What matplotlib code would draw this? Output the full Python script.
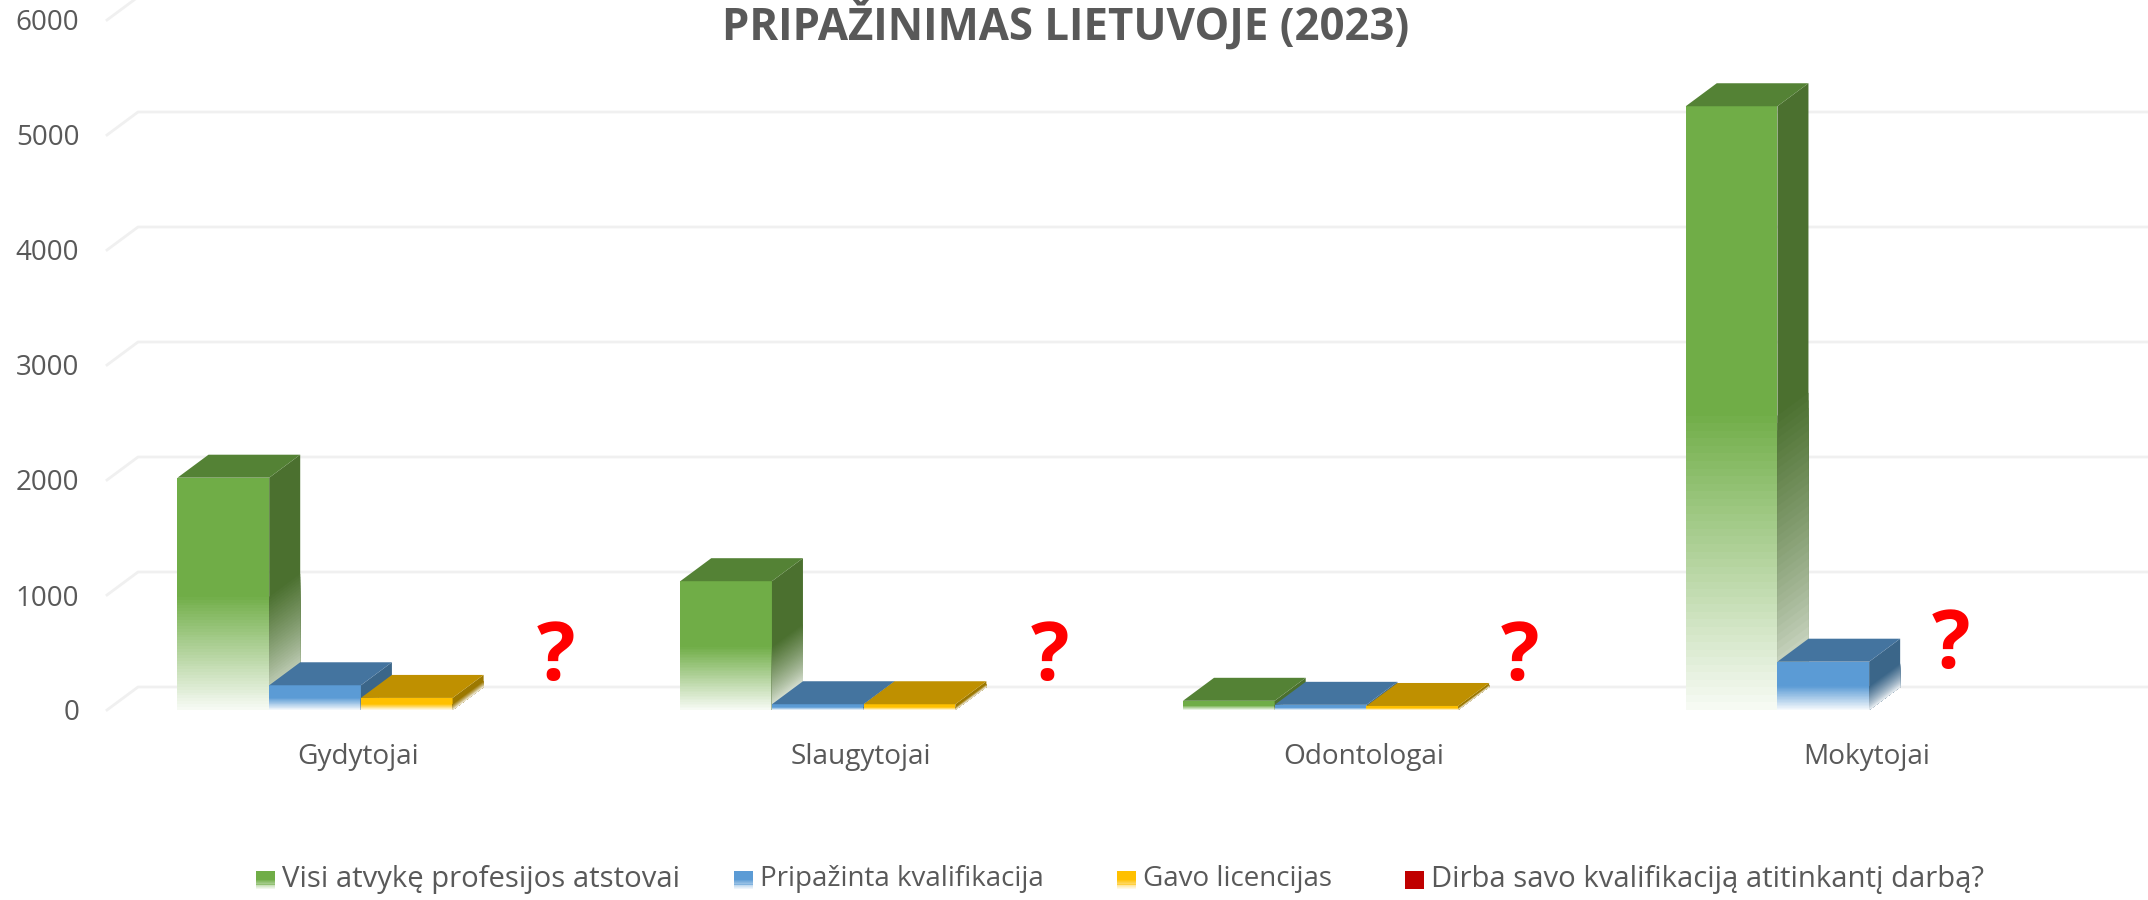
import numpy as np
import matplotlib
matplotlib.use('Agg')
import matplotlib.pyplot as plt
from matplotlib.collections import PolyCollection
from matplotlib.colors import to_rgb
from matplotlib.patches import Rectangle

plt.rcParams['font.family'] = ['Open Sans', 'DejaVu Sans']

# Values
categories = ['Gydytojai', 'Slaugytojai', 'Odontologai', 'Mokytojai']
visi = [2020, 1120, 80, 5250]
pripazinta = [215, 50, 45, 420]
licencijas = [105, 50, 35, 0]
series_names = ['Visi atvykę profesijos atstovai', 'Pripažinta kvalifikacija',
                'Gavo licencijas', 'Dirba savo kvalifikaciją atitinkantį darbą?']
y_ticks = [0, 1000, 2000, 3000, 4000, 5000, 6000]

# Question marks stand where the unknown fourth series would be
question_x = [0.393, 1.376, 2.311, 3.167]
question_y = [444, 444, 444, 549]

W, H = 2148, 900
front_left, front_right, front_bottom, front_top = 107, 2118, 710, 20
bar_w = 0.1824      # width of one bar, in category units
bar_shift = 0.005
depth_x = 0.0617    # 3D offset
depth_y = 200

# front, side, top
green = ('#70AD47', '#4B702F', '#548235')
blue = ('#5B9BD5', '#3B6689', '#44749F')
yellow = ('#FFC000', '#9C7800', '#BF9000')
red = '#C00000'
text_color = '#595959'
grid_color = '#F0F0F0'


def faded(ax, x0, x1, h, color, shift_y=0, power=1.0, z=3):
    # solid upper half, lower half fading to white: painted top down so no seams show
    rgb = np.array(to_rgb(color))
    mid = h / 2
    verts = [[(x0, 0), (x1, shift_y), (x1, h + shift_y), (x0, h)]]
    colors = [tuple(rgb)]
    for b in np.linspace(mid, 0, 41)[1:]:
        a = 0.04 + 0.96 * (b / mid) ** power
        verts.append([(x0, 0), (x1, shift_y), (x1, b + shift_y), (x0, b)])
        colors.append(tuple(rgb * a + (1 - a)))
    ax.add_collection(PolyCollection(verts, facecolors=colors, edgecolors='none', zorder=z))


def bar3d(ax, x, h, colors):
    front, side, top = colors
    faded(ax, x, x + bar_w, h, front)
    faded(ax, x + bar_w, x + bar_w + depth_x, h, side, shift_y=depth_y, power=0.7)
    ax.fill([x, x + bar_w, x + bar_w + depth_x, x + depth_x],
            [h, h, h + depth_y, h + depth_y], color=top, lw=0, zorder=3, clip_on=False)


fig = plt.figure(figsize=(W / 100, H / 100), dpi=100)
ax = fig.add_axes([front_left / W, 1 - front_bottom / H,
                   (front_right - front_left) / W, (front_bottom - front_top) / H])
ax.set_xlim(-0.5, 3.5)
ax.set_ylim(0, 6000)
for s in ax.spines.values():
    s.set_visible(False)

# Gridlines run along the back wall, with a short diagonal to the front
for v in y_ticks:
    ax.plot([-0.5, -0.5 + depth_x, 3.5 + depth_x], [v, v + depth_y, v + depth_y],
            color=grid_color, lw=2, clip_on=False, zorder=1)

for i in range(len(categories)):
    left = i - 2 * bar_w + bar_shift
    bar3d(ax, left, visi[i], green)
    bar3d(ax, left + bar_w, pripazinta[i], blue)
    if licencijas[i] > 0:
        bar3d(ax, left + 2 * bar_w, licencijas[i], yellow)

for qx, qy in zip(question_x, question_y):
    ax.text(qx, qy, '?', color='#FF0000', fontsize=58, fontweight='bold',
            ha='center', va='center', zorder=5)

ax.set_yticks(y_ticks)
ax.set_xticks(range(len(categories)))
ax.set_xticklabels(categories)
ax.tick_params(axis='y', length=0, pad=20, labelsize=20, labelcolor=text_color)
ax.tick_params(axis='x', length=0, pad=24, labelsize=20.2, labelcolor=text_color)

fig.text(1066 / W, 1 - 25 / H, 'PRIPAŽINIMAS LIETUVOJE (2023)', color=text_color,
         fontsize=31.5, fontweight='bold', ha='center', va='center')

# Legend placed by hand, the gaps in the original are uneven
legend_x = [256, 734, 1117, 1405]
legend_size = [21.1, 20, 20, 21.1]
legend_colors = [green[0], blue[0], yellow[0], red]
for i in range(len(series_names)):
    lx = legend_x[i]
    if i < 3:
        rgb = to_rgb(legend_colors[i])
        edges = np.linspace(889, 880, 11)
        fig.add_artist(Rectangle((lx / W, 1 - 880 / H), 19 / W, 9 / H, color=rgb, lw=0,
                                 transform=fig.transFigure))
        for k in range(10):
            fig.add_artist(Rectangle((lx / W, 1 - edges[k] / H), 19 / W, 1 / H,
                                     facecolor=rgb + (0.1 + 0.09 * k,), lw=0,
                                     transform=fig.transFigure))
    else:
        fig.add_artist(Rectangle((lx / W, 1 - 889 / H), 19 / W, 18 / H, color=legend_colors[i],
                                 lw=0, transform=fig.transFigure))
    fig.text((lx + 26) / W, 1 - 879 / H, series_names[i], color=text_color,
             fontsize=legend_size[i], ha='left', va='center')

fig.savefig('out.png', dpi=100)
